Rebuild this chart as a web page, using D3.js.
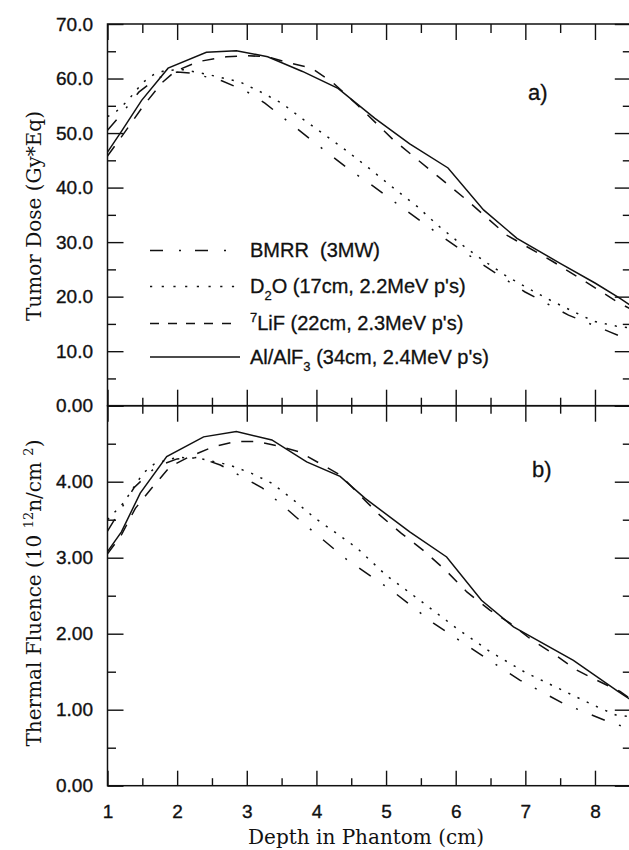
<!DOCTYPE html>
<html>
<head>
<meta charset="utf-8">
<script src="https://cdn.jsdelivr.net/npm/d3@7"></script>
<style>
  body { margin: 0; background: #fff; }
  svg { display: block; }
  .tick text { font-family: "Liberation Sans", Arial, sans-serif; font-size: 19px; fill: #111; stroke: #111; stroke-width: 0.35px; }
  .title { font-family: "DejaVu Serif", serif; font-size: 20px; fill: #111; }
  .legend text { font-family: "Liberation Sans", Arial, sans-serif; font-size: 20px; fill: #111; stroke: #111; stroke-width: 0.3px; white-space: pre; }
  .tag { font-family: "Liberation Sans", Arial, sans-serif; font-size: 22px; fill: #111; stroke: #111; stroke-width: 0.3px; }
</style>
</head>
<body>
<div id="chart"></div>
<script>
// ticks
const depthMajor = [1, 2, 3, 4, 5, 6, 7, 8]
const depthMinor = [1.5, 2.5, 3.5, 4.5, 5.5, 6.5, 7.5]
const doseMajor = [0, 10, 20, 30, 40, 50, 60, 70]
const doseMinor = [5, 15, 25, 35, 45, 55, 65]
const doseLabels = ['0.00', '10.0', '20.0', '30.0', '40.0', '50.0', '60.0', '70.0']
const fluMajor = [0, 1, 2, 3, 4, 5]
const fluMinor = [0.5, 1.5, 2.5, 3.5, 4.5]
const fluLabels = ['0.00', '1.00', '2.00', '3.00', '4.00']

// a) tumor dose (Gy*Eq)
const bmrrDoseX = [1.0, 1.2, 1.45, 1.7, 2.0, 2.2, 2.64, 3.0, 3.26, 3.9, 4.44, 4.8, 5.15, 5.75, 6.37, 6.99, 7.62, 8.22, 8.5]
const bmrrDose = [50.5, 53.5, 57.5, 60.0, 61.2, 61.0, 59.6, 57.6, 55.5, 49.0, 43.6, 40.4, 37.1, 31.5, 26.0, 20.9, 16.6, 13.5, 12.0]
const d2oDoseX = [1.0, 1.13, 1.28, 1.51, 1.66, 1.83, 2.1, 2.42, 2.9, 3.19, 3.5, 3.81, 4.15, 4.45, 4.75, 5.1, 5.45, 5.75, 6.06, 6.4, 6.7, 7.0, 7.38, 7.7, 7.98, 8.3, 8.5]
const d2oDose = [53.0, 54.0, 55.8, 59.3, 60.7, 61.5, 61.6, 60.8, 59.4, 57.6, 55.5, 52.5, 49.4, 46.6, 43.6, 40.0, 36.5, 33.0, 29.8, 26.6, 24.0, 21.8, 19.2, 17.2, 15.5, 14.6, 14.3]
const lifDoseX = [1.0, 1.2, 1.51, 1.78, 1.97, 2.3, 2.71, 3.0, 3.29, 3.6, 3.93, 4.24, 4.6, 5.1, 5.75, 6.16, 6.73, 7.4, 7.98, 8.31, 8.5]
const lifDose = [45.8, 49.3, 54.9, 59.2, 61.3, 63.1, 64.0, 64.2, 64.0, 62.9, 61.9, 59.2, 55.0, 48.8, 42.0, 37.7, 31.3, 26.4, 21.8, 19.1, 17.8]
const alDoseX = [1.0, 1.2, 1.49, 1.87, 2.42, 2.85, 3.3, 3.8, 4.31, 4.84, 5.34, 5.89, 6.4, 6.88, 7.5, 8.0, 8.36, 8.5]
const alDose = [46.5, 50.3, 56.0, 61.9, 64.8, 65.1, 64.0, 61.3, 58.2, 52.7, 48.0, 43.6, 35.9, 30.7, 26.1, 22.5, 19.7, 18.5]

// b) thermal fluence (10^12 n/cm^2)
const bmrrFluX = [1.0, 1.38, 1.7, 2.0, 2.3, 2.62, 3.22, 3.84, 4.43, 5.08, 5.68, 6.3, 6.92, 7.55, 8.17, 8.5]
const bmrrFlu = [3.35, 3.92, 4.2, 4.3, 4.32, 4.22, 3.92, 3.43, 2.98, 2.57, 2.14, 1.76, 1.39, 1.08, 0.85, 0.75]
const d2oFluX = [1.0, 1.23, 1.51, 1.68, 2.0, 2.31, 2.75, 3.07, 3.36, 3.67, 3.98, 4.29, 4.58, 5.0, 5.5, 6.0, 6.5, 7.0, 7.5, 8.0, 8.3, 8.5]
const d2oFlu = [3.5, 3.72, 4.11, 4.24, 4.32, 4.31, 4.22, 4.11, 3.98, 3.76, 3.52, 3.32, 3.13, 2.77, 2.43, 2.08, 1.76, 1.49, 1.27, 1.05, 0.93, 0.91]
const lifFluX = [1.0, 1.2, 1.4, 1.63, 1.9, 2.18, 2.52, 2.85, 3.14, 3.45, 3.76, 4.05, 4.34, 4.67, 4.91, 5.22, 5.53, 5.85, 6.16, 6.49, 6.78, 7.09, 7.43, 7.74, 8.02, 8.36, 8.5]
const lifFlu = [3.05, 3.3, 3.65, 3.91, 4.2, 4.33, 4.46, 4.53, 4.53, 4.47, 4.39, 4.24, 4.09, 3.78, 3.56, 3.32, 3.1, 2.84, 2.55, 2.31, 2.14, 1.92, 1.72, 1.52, 1.39, 1.24, 1.15]
const alFluX = [1.0, 1.2, 1.47, 1.85, 2.38, 2.85, 3.36, 3.86, 4.34, 4.7, 5.34, 5.87, 6.37, 6.83, 7.69, 8.33, 8.5]
const alFlu = [3.08, 3.34, 3.85, 4.33, 4.59, 4.66, 4.55, 4.26, 4.07, 3.78, 3.34, 3.01, 2.44, 2.09, 1.65, 1.24, 1.14]

const seriesNames = ['BMRR', 'D2O', 'LiF', 'Al']
const curveDash = ['14,15,2,15', '2.2,8', '12,11', null]
const legendDash = ['13,16,2,14', '2.2,9.5', '9,9', null]
// legend label pieces: [text, shift]
const legendLabels = [
  [['BMRR  (3MW)', '']],
  [['D', ''], ['2', 'sub'], ['O (17cm, 2.2MeV p\'s)', '']],
  [['7', 'sup'], ['LiF (22cm, 2.3MeV p\'s)', '']],
  [['Al/AlF', ''], ['3', 'sub'], [' (34cm, 2.4MeV p\'s)', '']]
]

const width = 629, height = 850
const plotLeft = 107.5, plotRight = 629.8, plotTop = 24, plotMid = 405.7, plotBottom = 785.7

const svg = d3.select('#chart').append('svg')
  .attr('width', width)
  .attr('height', height)
svg.append('rect').attr('width', width).attr('height', height).attr('fill', '#fff')

const x = d3.scaleLinear().domain([1, 8.5]).range([plotLeft, plotRight])
const yDose = d3.scaleLinear().domain([0, 70]).range([plotMid, plotTop])
const yFlu = d3.scaleLinear().domain([0, 5]).range([plotBottom, plotMid])

function addAxis(axis, tx, ty) {
  const g = svg.append('g').attr('transform', `translate(${tx},${ty})`).call(axis)
  g.select('.domain').remove()
  g.selectAll('.tick line').attr('stroke', '#111').attr('stroke-width', 1.4)
  return g
}
const blank = () => ''

// frame
svg.append('g').selectAll('rect')
  .data([[plotTop, plotMid], [plotMid, plotBottom]])
  .join('rect')
  .attr('x', plotLeft).attr('y', d => d[0])
  .attr('width', plotRight - plotLeft).attr('height', d => d[1] - d[0])
  .attr('fill', 'none').attr('stroke', '#111').attr('stroke-width', 1.5)

// depth ticks: top edge, shared middle edge, bottom edge
addAxis(d3.axisBottom(x).tickValues(depthMajor).tickSize(16).tickFormat(blank), 0, plotTop)
addAxis(d3.axisBottom(x).tickValues(depthMinor).tickSize(9).tickFormat(blank), 0, plotTop)
addAxis(d3.axisBottom(x).tickValues(depthMajor).tickSize(16).tickFormat(blank), 0, plotMid)
addAxis(d3.axisBottom(x).tickValues(depthMinor).tickSize(8).tickFormat(blank), 0, plotMid)
addAxis(d3.axisTop(x).tickValues(depthMajor).tickSize(16).tickFormat(blank), 0, plotMid)
addAxis(d3.axisTop(x).tickValues(depthMinor).tickSize(8).tickFormat(blank), 0, plotMid)
addAxis(d3.axisTop(x).tickValues(depthMajor).tickSize(15).tickFormat(blank), 0, plotBottom)
addAxis(d3.axisTop(x).tickValues(depthMinor).tickSize(7.5).tickFormat(blank), 0, plotBottom)
addAxis(d3.axisBottom(x).tickValues(depthMajor).tickSize(0).tickPadding(19).tickFormat(d3.format('d')), 0, plotBottom)

// dose ticks (left inward, right inward) and labels
addAxis(d3.axisRight(yDose).tickValues(doseMajor).tickSize(16).tickFormat(blank), plotLeft, 0)
addAxis(d3.axisRight(yDose).tickValues(doseMinor).tickSize(8.5).tickFormat(blank), plotLeft, 0)
addAxis(d3.axisLeft(yDose).tickValues(doseMajor).tickSize(15).tickFormat(blank), plotRight, 0)
addAxis(d3.axisLeft(yDose).tickValues(doseMinor).tickSize(7).tickFormat(blank), plotRight, 0)
addAxis(d3.axisLeft(yDose).tickValues(doseMajor).tickSize(0).tickPadding(14.5)
  .tickFormat((d, i) => doseLabels[i]), plotLeft, 0)

// fluence ticks and labels
addAxis(d3.axisRight(yFlu).tickValues(fluMajor).tickSize(16).tickFormat(blank), plotLeft, 0)
addAxis(d3.axisRight(yFlu).tickValues(fluMinor).tickSize(8.5).tickFormat(blank), plotLeft, 0)
addAxis(d3.axisLeft(yFlu).tickValues(fluMajor).tickSize(15).tickFormat(blank), plotRight, 0)
addAxis(d3.axisLeft(yFlu).tickValues(fluMinor).tickSize(7).tickFormat(blank), plotRight, 0)
addAxis(d3.axisLeft(yFlu).tickValues(fluMajor.slice(0, 5)).tickSize(0).tickPadding(14.5)
  .tickFormat((d, i) => fluLabels[i]), plotLeft, 0)

// curves
const doseSets = [[bmrrDoseX, bmrrDose], [d2oDoseX, d2oDose], [lifDoseX, lifDose], [alDoseX, alDose]]
const fluSets = [[bmrrFluX, bmrrFlu], [d2oFluX, d2oFlu], [lifFluX, lifFlu], [alFluX, alFlu]]

function drawCurves(sets, yScale) {
  const line = d3.line().x(d => x(d[0])).y(d => yScale(d[1]))
  svg.append('g').selectAll('path')
    .data(sets.map(s => s[0].map((v, i) => [v, s[1][i]])))
    .join('path')
    .attr('d', line)
    .attr('fill', 'none')
    .attr('stroke', '#111')
    .attr('stroke-width', 1.5)
    .attr('stroke-dasharray', (d, i) => curveDash[i])
}
drawCurves(doseSets, yDose)
drawCurves(fluSets, yFlu)

// legend
const legendRows = [257, 293, 330, 363.5]
const legend = svg.append('g').attr('class', 'legend')
const row = legend.selectAll('g').data(seriesNames).join('g')
  .attr('transform', (d, i) => `translate(0,${legendRows[i]})`)
row.append('line')
  .attr('x1', 150).attr('x2', 240).attr('y1', -6.5).attr('y2', -6.5)
  .attr('stroke', '#111').attr('stroke-width', 1.5)
  .attr('stroke-dasharray', (d, i) => legendDash[i])
const label = row.append('text').attr('x', 250)
label.selectAll('tspan')
  .data((d, i) => legendLabels[i])
  .join('tspan')
  .attr('font-size', d => d[1] ? 13 : null)
  .attr('dy', (d, i, n) => {
    const prev = i > 0 ? d3.select(n[i - 1]).datum()[1] : ''
    const off = s => s === 'sub' ? 7 : s === 'sup' ? -8 : 0
    return off(d[1]) - off(prev)
  })
  .text(d => d[0])

// panel tags
svg.append('text').attr('class', 'tag').attr('x', 528).attr('y', 100).text('a)')
svg.append('text').attr('class', 'tag').attr('x', 532).attr('y', 477).text('b)')

// axis titles
svg.append('text').attr('class', 'title')
  .attr('x', 366).attr('y', 844).attr('text-anchor', 'middle')
  .text('Depth in Phantom (cm)')
svg.append('text').attr('class', 'title')
  .attr('transform', 'translate(41,216) rotate(-90)').attr('text-anchor', 'middle')
  .text('Tumor Dose (Gy*Eq)')
const fluTitle = svg.append('text').attr('class', 'title')
  .attr('transform', 'translate(41,593) rotate(-90)').attr('text-anchor', 'middle')
  .style('white-space', 'pre')
fluTitle.append('tspan').text('Thermal Fluence (10 ')
fluTitle.append('tspan').attr('font-size', 13).attr('dy', -8).text('12')
fluTitle.append('tspan').attr('dy', 8).text('n/cm ')
fluTitle.append('tspan').attr('font-size', 13).attr('dy', -8).text('2')
fluTitle.append('tspan').attr('dy', 8).text(')')
</script>
</body>
</html>
